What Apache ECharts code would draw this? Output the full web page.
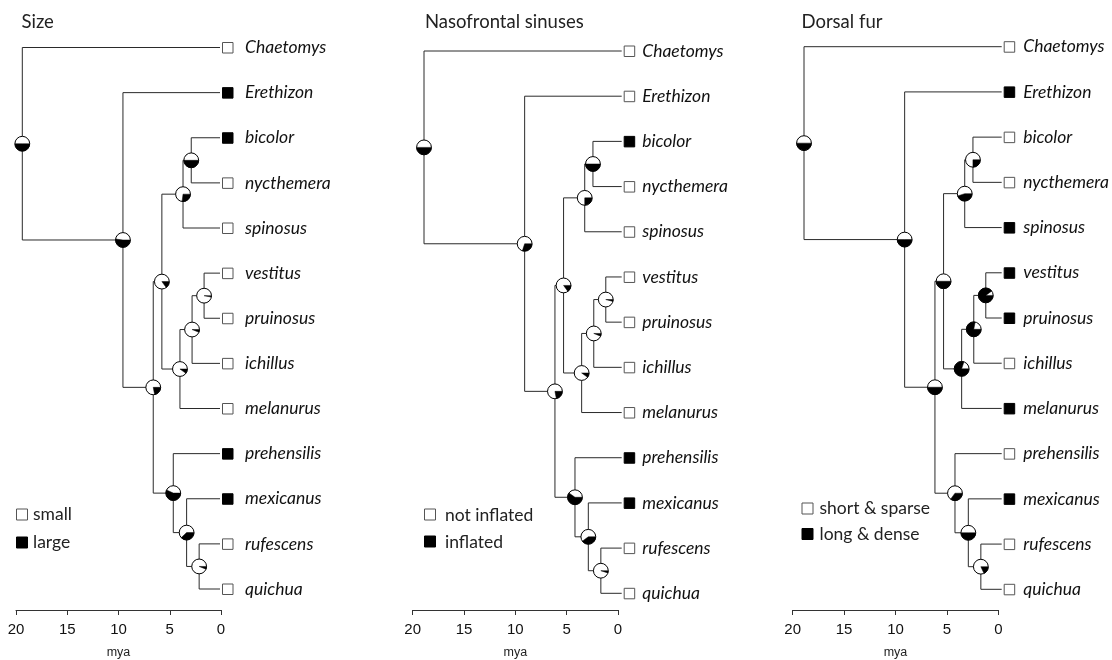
<!DOCTYPE html>
<html><head><meta charset="utf-8">
<script src="https://cdn.jsdelivr.net/npm/echarts@6/dist/echarts.min.js"></script>
<style>html,body{margin:0;padding:0;background:#fff}#c{width:1112px;height:660px}</style>
</head><body><div id="c"></div>
<script>
// ---------- data ----------
const taxa = ['Chaetomys','Erethizon','bicolor','nycthemera','spinosus','vestitus','pruinosus','ichillus','melanurus','prehensilis','mexicanus','rufescens','quichua'];
const nodeIds = ['root','A','B','C','D','E','F','G','H','I','J','K'];
const nodeAges = [19.25, 9.45, 6.5, 5.66, 3.6, 2.8, 3.9, 2.72, 1.55, 4.55, 3.25, 2.03]; // mya
const nodeChildren = [
  ['Chaetomys','A'], ['Erethizon','B'], ['C','I'], ['D','F'], ['E','spinosus'], ['bicolor','nycthemera'],
  ['G','melanurus'], ['H','ichillus'], ['vestitus','pruinosus'], ['prehensilis','J'], ['mexicanus','K'], ['rufescens','quichua']
];
const titles = ['Size','Nasofrontal sinuses','Dorsal fur'];
const legendLabels = [['small','large'],['not inflated','inflated'],['short & sparse','long & dense']];
// tip states: 0 = first state (white), 1 = second state (black)
const sizeTips  = [0,1,1,0,0,0,0,0,0,1,1,0,0];
const sinusTips = [0,0,1,0,0,0,0,0,0,1,1,0,0];
const furTips   = [0,1,0,0,1,1,1,0,1,0,1,0,0];
// node pies: probability of second state (black)
const sizePies  = [0.5, 0.52, 0.22, 0.15, 0.27, 0.5, 0.1, 0.06, 0.03, 0.57, 0.38, 0.06];
const sinusPies = [0.5, 0.3, 0.22, 0.15, 0.25, 0.5, 0.1, 0.06, 0.04, 0.6, 0.4, 0.05];
const furPies   = [0.5, 0.5, 0.5, 0.5, 0.45, 0.25, 0.8, 0.78, 0.9, 0.35, 0.5, 0.18];
const xTicks = [20, 15, 10, 5, 0];

const tipStates = [sizeTips, sinusTips, furTips];
const pieValues = [sizePies, sinusPies, furPies];

// ---------- layout ----------
const treeLayouts = [{left:14.6, top:47.5, bottom:589, label:25}, {left:416.3, top:51, bottom:593.3, label:20.5}, {left:796.3, top:46.7, bottom:589.3, label:21.5}];
const axisLayouts = [{left:16, right:221},{left:412.7,right:618},{left:792.7,right:998.3}];
const AXIS_Y = 612.7;
const TREE_W = 205.4;
const LINE = '#2a2a2a';
const FONT = 'Lato, "Open Sans", sans-serif';

function ageOf(name){ const i = nodeIds.indexOf(name); return i < 0 ? 0 : nodeAges[i]; }
function yOf(name){
  const t = taxa.indexOf(name);
  if (t >= 0) return t;
  const kids = nodeChildren[nodeIds.indexOf(name)];
  return (yOf(kids[0]) + yOf(kids[1])) / 2;
}

const grid = [], xAxis = [], yAxis = [], series = [], graphic = [];
for (let p = 0; p < 3; p++) {
  const tl = treeLayouts[p], al = axisLayouts[p];
  grid.push({left: tl.left, top: tl.top, width: TREE_W, height: tl.bottom - tl.top});
  grid.push({left: al.left, top: AXIS_Y - 10, width: al.right - al.left, height: 10});
  xAxis.push({type:'value', gridIndex: 2*p, min:0, max:20, inverse:true, show:false});
  xAxis.push({type:'value', gridIndex: 2*p+1, min:0, max:20, interval:5, inverse:true, position:'bottom',
    axisLine:{show:true, lineStyle:{color:'#333', width:1}},
    axisTick:{show:true, length:5, lineStyle:{color:'#333'}},
    splitLine:{show:false},
    axisLabel:{show:true, color:'#111', fontSize:15, margin:12, fontFamily:'"Liberation Sans", Arial, sans-serif',
      formatter: v => xTicks.indexOf(v) >= 0 ? String(v) : ''},
    name:'mya', nameLocation:'middle', nameGap:36,
    nameTextStyle:{fontSize:12.5, color:'#222', fontFamily:'"Liberation Sans", Arial, sans-serif'}
  });
  yAxis.push({type:'value', gridIndex: 2*p, min:0, max:12, inverse:true, show:false});
  yAxis.push({type:'value', gridIndex: 2*p+1, min:0, max:1, show:false});

  // branches
  series.push({
    type:'custom', coordinateSystem:'cartesian2d', xAxisIndex:2*p, yAxisIndex:2*p, z:2, silent:true,
    data: nodeIds.map((n,i) => [nodeAges[i], yOf(n)]),
    renderItem: function(params, api){
      const i = params.dataIndex;
      const a = nodeAges[i];
      const kids = nodeChildren[i];
      const ys = kids.map(k => yOf(k));
      const children = [];
      const p1 = api.coord([a, ys[0]]), p2 = api.coord([a, ys[1]]);
      children.push({type:'line', shape:{x1:p1[0], y1:p1[1], x2:p2[0], y2:p2[1]}, style:{stroke:LINE, lineWidth:1}});
      kids.forEach((k, j) => {
        const s = api.coord([a, ys[j]]), e = api.coord([ageOf(k), ys[j]]);
        children.push({type:'line', shape:{x1:s[0], y1:s[1], x2:e[0], y2:e[1]}, style:{stroke:LINE, lineWidth:1}});
      });
      return {type:'group', children};
    }
  });
  // node pies
  const pv = pieValues[p];
  series.push({
    type:'custom', coordinateSystem:'cartesian2d', xAxisIndex:2*p, yAxisIndex:2*p, z:5, silent:true,
    data: nodeIds.map((n,i) => [nodeAges[i], yOf(n), pv[i]]),
    renderItem: function(params, api){
      const c = api.coord([api.value(0), api.value(1)]);
      const b = api.value(2);
      const r = 7.4;
      return {type:'group', children:[
        {type:'circle', shape:{cx:c[0], cy:c[1], r:r}, style:{fill:'#fff', stroke:'none'}},
        {type:'sector', shape:{cx:c[0], cy:c[1], r:r, r0:0, startAngle:0, endAngle:b*2*Math.PI, clockwise:true}, style:{fill:'#000', stroke:'#000', lineWidth:0.5}},
        {type:'circle', shape:{cx:c[0], cy:c[1], r:r}, style:{fill:'none', stroke:'#000', lineWidth:1}}
      ]};
    }
  });
  // tips
  const ts = tipStates[p];
  const lab = tl.label;
  series.push({
    type:'custom', coordinateSystem:'cartesian2d', xAxisIndex:2*p, yAxisIndex:2*p, z:4, silent:true,
    data: taxa.map((t,i) => [0, i, ts[i]]),
    renderItem: function(params, api){
      const c = api.coord([api.value(0), api.value(1)]);
      const st = api.value(2);
      return {type:'group', children:[
        {type:'rect', shape:{x:c[0]+2.5, y:c[1]-5, width:10.5, height:10.5},
          style: st ? {fill:'#000', stroke:'#000', lineWidth:1} : {fill:'#fff', stroke:'#555', lineWidth:1}},
        {type:'text', style:{text: taxa[params.dataIndex], x:c[0]+lab, y:c[1], fill:'#111',
          font:'italic 17.5px ' + FONT, align:'left', verticalAlign:'middle'}}
      ]};
    }
  });
}

// titles and legends
const titlePos = [{x:21.5, y:22.5}, {x:425, y:22.5}, {x:801.5, y:22.5}];
const legendPos = [
  {sx:16.5, sy:[509, 537], tx:33, ty:[514, 542]},
  {sx:424.5, sy:[509, 536], tx:445, ty:[515, 542]},
  {sx:802, sy:[503, 528.5], tx:819.5, ty:[508.5, 534]}
];
for (let p = 0; p < 3; p++) {
  graphic.push({type:'text', silent:true, style:{text:titles[p], x:titlePos[p].x, y:titlePos[p].y, fill:'#222',
    font:'18.5px ' + FONT, align:'left', verticalAlign:'middle'}});
  const lp = legendPos[p];
  for (let k = 0; k < 2; k++) {
    graphic.push({type:'rect', silent:true, shape:{x:lp.sx, y:lp.sy[k], width:11, height:11},
      style: k ? {fill:'#000', stroke:'#000', lineWidth:1} : {fill:'#fff', stroke:'#555', lineWidth:1}});
    graphic.push({type:'text', silent:true, style:{text:legendLabels[p][k], x:lp.tx, y:lp.ty[k], fill:'#222',
      font:'17.5px ' + FONT, align:'left', verticalAlign:'middle'}});
  }
}

const chart = echarts.init(document.getElementById('c'));
chart.setOption({animation:false, backgroundColor:'#fff', grid, xAxis, yAxis, series, graphic});
</script>
</body></html>
